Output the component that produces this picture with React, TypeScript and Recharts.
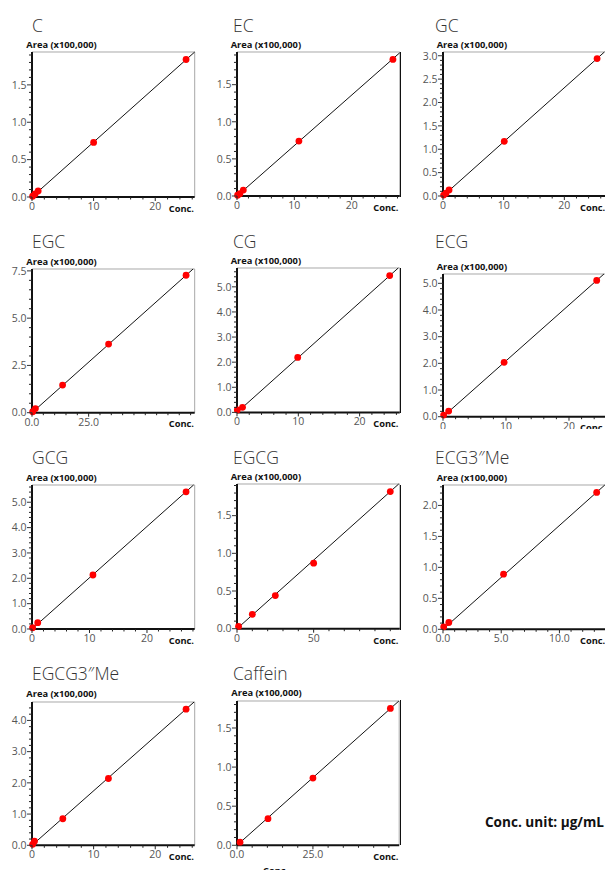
import React from 'react';
import { ComposedChart, XAxis, YAxis, Scatter, Line, ReferenceLine } from 'recharts';

const FONT = "'Open Sans', 'Noto Sans', sans-serif";

// ---------- data (Conc., Area x100,000) ----------
const cConc = [0.1, 0.5, 1.0, 10, 25];
const cArea = [0.01, 0.04, 0.08, 0.73, 1.84];
const cFitConc = [0, 26.4];
const cFitArea = [0, 1.94];
const cRange = [26.4, 1.94];
const cXTicks = [0, 10, 20];
const cYTicks = [0, 0.5, 1.0, 1.5];

const ecConc = [0.1, 0.5, 1.1, 10.8, 27.2];
const ecArea = [0.01, 0.03, 0.08, 0.74, 1.84];
const ecFitConc = [0, 28.4];
const ecFitArea = [0, 1.93];
const ecRange = [28.4, 1.94];
const ecXTicks = [0, 10, 20];
const ecYTicks = [0, 0.5, 1.0, 1.5];

const gcConc = [0.1, 0.5, 1.0, 10.1, 25.4];
const gcArea = [0.02, 0.06, 0.13, 1.17, 2.94];
const gcFitConc = [0, 26.6];
const gcFitArea = [0, 3.08];
const gcRange = [28.4, 3.08];
const gcXTicks = [0, 10, 20];
const gcYTicks = [0, 0.5, 1.0, 1.5, 2.0, 2.5, 3.0];

const egcConc = [0.3, 1.5, 13.5, 33.8, 68];
const egcArea = [0.05, 0.22, 1.46, 3.63, 7.27];
const egcFitConc = [0, 71.1];
const egcFitArea = [0, 7.6];
const egcRange = [71.8, 7.6];
const egcXTicks = [0, 25];
const egcYTicks = [0, 2.5, 5.0, 7.5];

const cgConc = [0.05, 0.9, 9.9, 24.9];
const cgArea = [0.1, 0.2, 2.19, 5.45];
const cgFitConc = [0, 26.3];
const cgFitArea = [0, 5.75];
const cgRange = [26.55, 5.75];
const cgXTicks = [0, 10, 20];
const cgYTicks = [0, 1, 2, 3, 4, 5];

const ecgConc = [0.1, 0.9, 9.7, 24.4];
const ecgArea = [0.06, 0.21, 2.04, 5.11];
const ecgFitConc = [0, 25.55];
const ecgFitArea = [0, 5.35];
const ecgRange = [27.35, 5.35];
const ecgXTicks = [0, 10, 20];
const ecgYTicks = [0, 1, 2, 3, 4, 5];

const gcgConc = [0.1, 1.0, 10.6, 26.8];
const gcgArea = [0.05, 0.25, 2.13, 5.41];
const gcgFitConc = [0, 28.1];
const gcgFitArea = [0, 5.68];
const gcgRange = [28.3, 5.68];
const gcgXTicks = [0, 10, 20];
const gcgYTicks = [0, 1, 2, 3, 4, 5];

const egcgConc = [1, 10, 25, 50, 100];
const egcgArea = [0.03, 0.19, 0.44, 0.87, 1.82];
const egcgFitConc = [0, 105.5];
const egcgFitArea = [0, 1.92];
const egcgRange = [106.2, 1.92];
const egcgXTicks = [0, 50];
const egcgYTicks = [0, 0.5, 1.0, 1.5];

const ecg3Conc = [0.06, 0.5, 5.2, 13.2];
const ecg3Area = [0.04, 0.11, 0.89, 2.21];
const ecg3FitConc = [0, 13.9];
const ecg3FitArea = [0, 2.33];
const ecg3Range = [14.8, 2.33];
const ecg3XTicks = [0, 5, 10];
const ecg3YTicks = [0, 0.5, 1.0, 1.5, 2.0];

const egcg3Conc = [0.1, 0.4, 5, 12.4, 25];
const egcg3Area = [0.03, 0.13, 0.85, 2.14, 4.36];
const egcg3FitConc = [0, 26.3];
const egcg3FitArea = [0, 4.59];
const egcg3Range = [26.4, 4.59];
const egcg3XTicks = [0, 10, 20];
const egcg3YTicks = [0, 1, 2, 3, 4];

const cafConc = [1, 10.2, 25, 50.5];
const cafArea = [0.04, 0.34, 0.86, 1.75];
const cafFitConc = [0, 53.3];
const cafFitArea = [0, 1.845];
const cafRange = [53.4, 1.845];
const cafXTicks = [0, 25];
const cafYTicks = [0, 0.5, 1.0, 1.5];

// ---------- layout ----------
const colBox = [[0, 200], [200, 400], [400, 605]];
const rowBox = [[0, 215], [215, 429], [430, 650], [650, 870]];
const titleBase = [31.7, 248, 463.5, 680];
const titleX = [32, 233, 435];

type PanelDef = {
  name: string; conc: number[]; area: number[]; fitConc: number[]; fitArea: number[];
  range: number[]; xTicks: number[]; yTicks: number[]; minor: number[]; dec: number[];
  col: number; row: number; box: number[];
};

const mk = (name: string, conc: number[], area: number[], fitConc: number[], fitArea: number[], range: number[],
  xTicks: number[], yTicks: number[], minor: number[], dec: number[], col: number, row: number, box: number[]): PanelDef =>
  ({ name, conc, area, fitConc, fitArea, range, xTicks, yTicks, minor, dec, col, row, box });

const panels: PanelDef[] = [
  mk('C', cConc, cArea, cFitConc, cFitArea, cRange, cXTicks, cYTicks, [2, 0.1], [0, 1], 0, 0, [32.3, 52, 195, 197]),
  mk('EC', ecConc, ecArea, ecFitConc, ecFitArea, ecRange, ecXTicks, ecYTicks, [2, 0.1], [0, 1], 1, 0, [236.7, 52, 399.5, 196]),
  mk('GC', gcConc, gcArea, gcFitConc, gcFitArea, gcRange, gcXTicks, gcYTicks, [2, 0.1], [0, 1], 2, 0, [442.7, 52, 615, 196]),
  mk('EGC', egcConc, egcArea, egcFitConc, egcFitArea, egcRange, egcXTicks, egcYTicks, [5, 0.5], [1, 1], 0, 1, [32.3, 269, 195, 412.7]),
  mk('CG', cgConc, cgArea, cgFitConc, cgFitArea, cgRange, cgXTicks, cgYTicks, [2, 0.2], [0, 1], 1, 1, [236.7, 268.3, 399.5, 412.7]),
  mk('ECG', ecgConc, ecgArea, ecgFitConc, ecgFitArea, ecgRange, ecgXTicks, ecgYTicks, [2, 0.2], [0, 1], 2, 1, [442.7, 274, 615, 416.7]),
  mk('GCG', gcgConc, gcgArea, gcgFitConc, gcgFitArea, gcgRange, gcgXTicks, gcgYTicks, [2, 0.2], [0, 1], 0, 2, [32.3, 485, 195, 629]),
  mk('EGCG', egcgConc, egcgArea, egcgFitConc, egcgFitArea, egcgRange, egcgXTicks, egcgYTicks, [10, 0.1], [0, 1], 1, 2, [236.7, 484.3, 399.5, 629]),
  mk('ECG3\u2033Me', ecg3Conc, ecg3Area, ecg3FitConc, ecg3FitArea, ecg3Range, ecg3XTicks, ecg3YTicks, [1, 0.1], [1, 1], 2, 2, [442.7, 485, 615, 629.3]),
  mk('EGCG3\u2033Me', egcg3Conc, egcg3Area, egcg3FitConc, egcg3FitArea, egcg3Range, egcg3XTicks, egcg3YTicks, [2, 0.2], [0, 1], 0, 3, [32.3, 701.7, 195, 845]),
  mk('Caffein', cafConc, cafArea, cafFitConc, cafFitArea, cafRange, cafXTicks, cafYTicks, [5, 0.1], [1, 1], 1, 3, [237.3, 700.7, 399.5, 845]),
];

const steps = (max: number, step: number) => {
  const out: number[] = [];
  const n = Math.floor(max / step + 1e-6);
  for (let i = 0; i <= n; i++) out.push(+(i * step).toFixed(4));
  return out;
};
const isIn = (arr: number[], v: number) => arr.some((m) => Math.abs(m - v) < 1e-6);

const YW = 36;
const XH = 22;
const MT = 4;
const MR = 1;

const Panel = ({ p }: { p: PanelDef }) => {
  const [cl, cr] = colBox[p.col];
  const [rt, rb] = rowBox[p.row];
  const [bl, bt, br, bb] = p.box;
  const pw = br - bl;
  const ph = bb - bt;
  const pts = p.conc.map((x, i) => ({ x, y: p.area[i] }));
  const fit = p.fitConc.map((x, i) => ({ x, y: p.fitArea[i] }));
  const xAll = steps(p.range[0], p.minor[0]);
  const yAll = steps(p.range[1], p.minor[1]);

  const XTick = (props: any) => {
    const { x, y, payload } = props;
    const v = payload.value;
    if (isIn(p.xTicks, v)) {
      return (
        <g>
          <line x1={x} x2={x} y1={y} y2={y + 4} stroke="#222" strokeWidth={1} />
          <text x={x} y={y + 13} textAnchor="middle" fontSize={10.5} fill="#555" fontFamily={FONT}>
            {v.toFixed(p.dec[0])}
          </text>
        </g>
      );
    }
    return <line x1={x} x2={x} y1={y} y2={y + 2.5} stroke="#222" strokeWidth={1} />;
  };
  const YTick = (props: any) => {
    const { x, y, payload } = props;
    const v = payload.value;
    if (isIn(p.yTicks, v)) {
      return (
        <g>
          <line x1={x - 5} x2={x} y1={y} y2={y} stroke="#333" strokeWidth={1} />
          <text x={x - 5.5} y={y} dy="0.36em" textAnchor="end" fontSize={10.5} fill="#555" fontFamily={FONT}>
            {v.toFixed(p.dec[1])}
          </text>
        </g>
      );
    }
    return <line x1={x - 3} x2={x} y1={y} y2={y} stroke="#222" strokeWidth={1} />;
  };

  const concX = p.col === 2 ? 580 : br - 1;
  return (
    <div style={{ position: 'absolute', left: cl, top: rt, width: cr - cl, height: rb - rt, overflow: 'hidden' }}>
      <div style={{ position: 'absolute', left: bl - YW - cl, top: bt - MT - rt }}>
        <ComposedChart width={pw + YW + MR} height={ph + MT + XH} margin={{ top: MT, right: MR, bottom: 0, left: 0 }}>
          <XAxis
            type="number"
            dataKey="x"
            domain={[0, p.range[0]]}
            ticks={xAll}
            interval={0}
            height={XH}
            tickSize={0}
            tickMargin={0}
            tickLine={false}
            tick={XTick}
            axisLine={{ stroke: '#111', strokeWidth: 2 }}
          />
          <YAxis
            type="number"
            dataKey="y"
            domain={[0, p.range[1]]}
            ticks={yAll}
            interval={0}
            width={YW}
            tickSize={0}
            tickMargin={0}
            tickLine={false}
            tick={YTick}
            axisLine={{ stroke: '#111', strokeWidth: 2 }}
          />
          <ReferenceLine y={p.range[1]} stroke="#a8a8a8" strokeWidth={1} />
          <ReferenceLine x={p.range[0]} stroke="#a8a8a8" strokeWidth={1} />
          <Line data={fit} dataKey="y" stroke="#111" strokeWidth={1} dot={false} isAnimationActive={false} />
          <Scatter data={pts} dataKey="y" fill="#ff0000" isAnimationActive={false}
            shape={(s: any) => <circle cx={s.cx} cy={s.cy} r={3.4} fill="#ff0000" />} />
        </ComposedChart>
      </div>
      <svg width={cr - cl} height={rb - rt} style={{ position: 'absolute', left: 0, top: 0, pointerEvents: 'none' }}>
        <text x={titleX[p.col] - cl} y={titleBase[p.row] - rt} fontSize={17.5} fontWeight={300} fill="#333" fontFamily={FONT}>
          {p.name}
        </text>
        <text x={bl - 6 - cl} y={bt - 4.5 - rt} fontSize={9.3} fontWeight={700} fill="#111" fontFamily={FONT}>
          Area (x100,000)
        </text>
        <text x={concX - cl} y={bb + 14.5 - rt} fontSize={9.3} fontWeight={700} fill="#111" fontFamily={FONT}
          textAnchor={p.col === 2 ? 'start' : 'end'}>
          Conc.
        </text>
      </svg>
    </div>
  );
};

const edgeRows = [[52, 197], [268, 413], [485, 630], [700, 845]];

export default function App() {
  return (
    <div style={{ position: 'absolute', left: 0, top: 0, width: 605, height: 870, overflow: 'hidden', background: '#fff' }}>
      {panels.map((p) => (
        <Panel key={p.name} p={p} />
      ))}
      {edgeRows.map(([a, b], i) => (
        <div key={i} style={{ position: 'absolute', left: 400, top: a, width: 1, height: b - a, background: '#111' }} />
      ))}
      <svg width={605} height={870} style={{ position: 'absolute', left: 0, top: 0, pointerEvents: 'none' }}>
        <text x={604} y={826.5} textAnchor="end" fontSize={13.6} fontWeight={700} fill="#111" fontFamily={FONT}>
          Conc. unit: μg/mL
        </text>
        <text x={263} y={874} fontSize={9.3} fontWeight={700} fill="#111" fontFamily={FONT}>
          Conc.
        </text>
      </svg>
    </div>
  );
}
